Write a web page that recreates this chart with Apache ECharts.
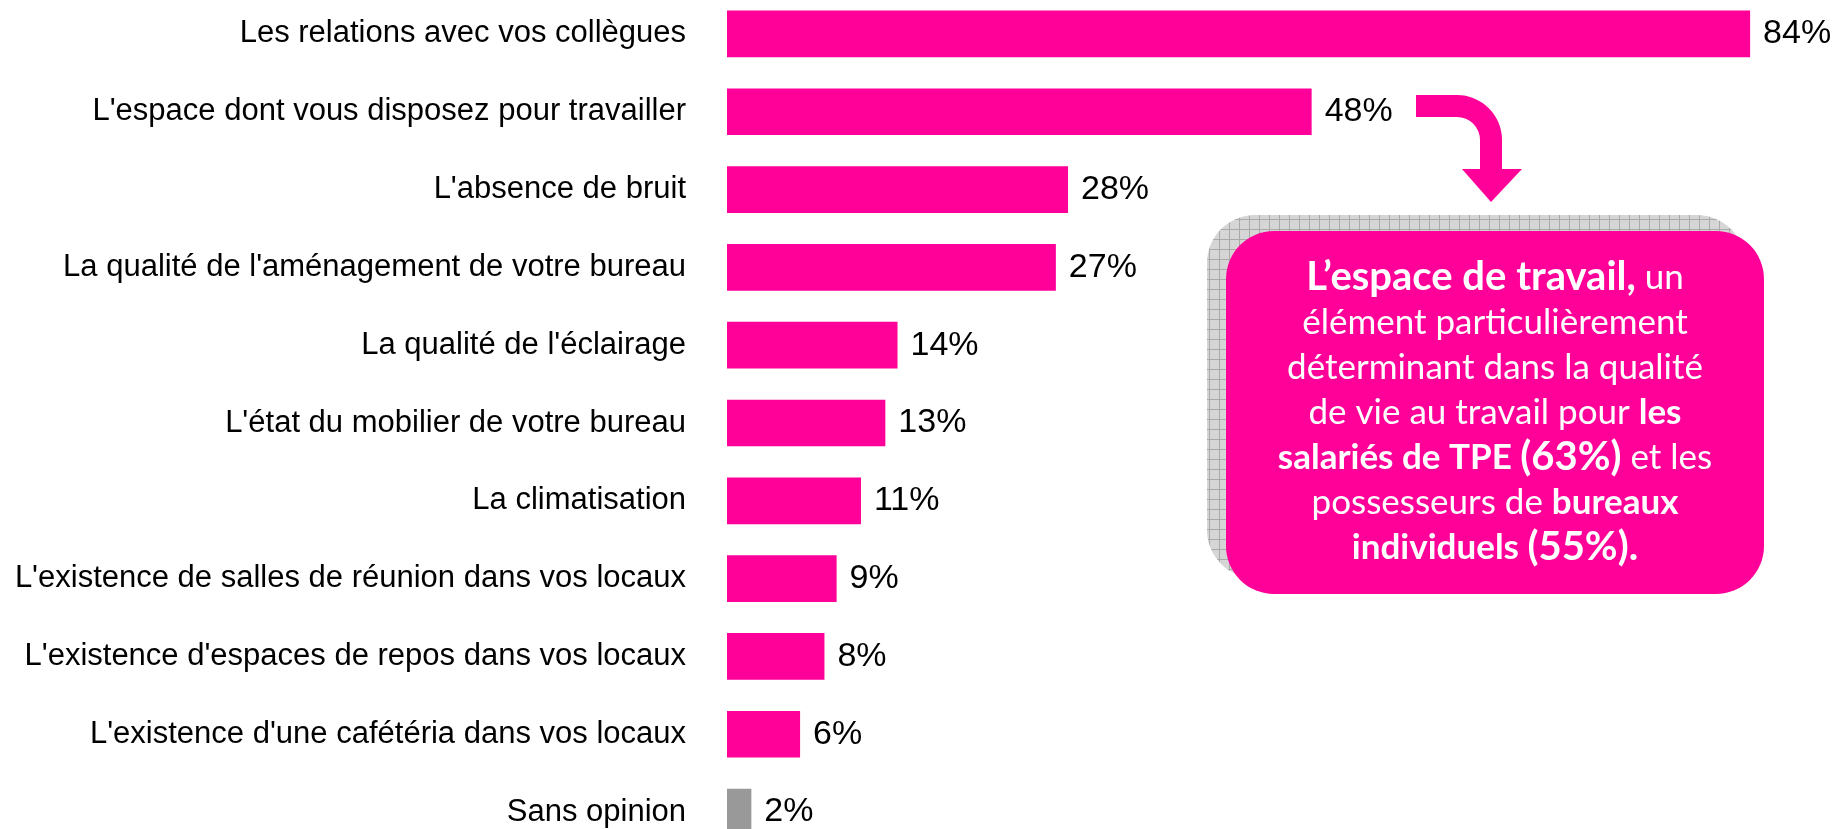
<!DOCTYPE html>
<html>
<head>
<meta charset="utf-8">
<script src="https://cdn.jsdelivr.net/npm/echarts@6/dist/echarts.min.js"></script>
<style>
  html, body { margin: 0; padding: 0; background: #fff; overflow: hidden; }
  #chart { width: 1838px; height: 829px; }
</style>
</head>
<body>
<div id="chart"></div>
<script>
const categories = [
  "Les relations avec vos collègues",
  "L'espace dont vous disposez pour travailler",
  "L'absence de bruit",
  "La qualité de l'aménagement de votre bureau",
  "La qualité de l'éclairage",
  "L'état du mobilier de votre bureau",
  "La climatisation",
  "L'existence de salles de réunion dans vos locaux",
  "L'existence d'espaces de repos dans vos locaux",
  "L'existence d'une cafétéria dans vos locaux",
  "Sans opinion",
];
const values = [84, 48, 28, 27, 14, 13, 11, 9, 8, 6, 2];
const highlightColor = "#ff0099";
const neutralColor = "#999999";

// grid hatch used for the callout's shadow
function makeHatch() {
  const c = document.createElement("canvas");
  c.width = 10;
  c.height = 10;
  const ctx = c.getContext("2d");
  ctx.fillStyle = "#d6d6d6";
  ctx.fillRect(0, 0, 10, 10);
  ctx.fillStyle = "#a9a9a9";
  ctx.fillRect(9, 0, 1, 10);
  ctx.fillRect(0, 9, 10, 1);
  return c;
}

const chart = echarts.init(document.getElementById("chart"));

const boxLeft = 1226, boxTop = 231, boxW = 538, boxH = 363;

chart.setOption({
  animation: false,
  grid: {
    left: 727,
    top: -5,
    width: 1218,
    height: 856,
    containLabel: false,
    outerBoundsMode: "none",
  },
  xAxis: {
    type: "value",
    min: 0,
    max: 100,
    show: false,
  },
  yAxis: {
    type: "category",
    inverse: true,
    data: categories,
    axisLine: { show: false },
    axisTick: { show: false },
    axisLabel: {
      margin: 41,
      color: "#000",
      fontFamily: "Liberation Sans, Arial, sans-serif",
      fontSize: 31,
    },
  },
  series: [
    {
      type: "bar",
      barCategoryGap: "40%",
      data: values.map((v, i) => ({
        value: v,
        itemStyle: { color: i === values.length - 1 ? neutralColor : highlightColor },
      })),
      label: {
        show: true,
        position: "right",
        distance: 13,
        formatter: "{c}%",
        color: "#000",
        fontFamily: "Liberation Sans, Arial, sans-serif",
        fontSize: 34,
      },
    },
  ],
  graphic: [
    {
      type: "rect",
      z: 10,
      shape: { x: boxLeft - 19, y: boxTop - 16, width: boxW, height: boxH, r: 48 },
      style: { fill: { image: makeHatch(), repeat: "repeat" } },
    },
    {
      type: "rect",
      z: 11,
      shape: { x: boxLeft, y: boxTop, width: boxW, height: boxH, r: 48 },
      style: { fill: highlightColor },
    },
    {
      type: "text",
      z: 12,
      x: boxLeft + boxW / 2,
      y: boxTop + boxH / 2,
      style: {
        text:
          "{big|L’espace de travail,}{n| un}\n" +
          "{n|élément particulièrement}\n" +
          "{n|déterminant dans la qualité}\n" +
          "{n|de vie au travail pour }{b|les}\n" +
          "{b|salariés de TPE }{big|(63%)}{n| et les}\n" +
          "{n|possesseurs de }{b|bureaux}\n" +
          "{b|individuels }{big|(55%).}",
        align: "center",
        verticalAlign: "middle",
        fill: "#fff",
        rich: {
          n: { fontFamily: "Lato", fontSize: 35, fill: "#fff", lineHeight: 45 },
          b: { fontFamily: "Lato", fontSize: 35, fontWeight: "bold", fill: "#fff", lineHeight: 45 },
          big: { fontFamily: "Lato", fontSize: 40, fontWeight: "bold", fill: "#fff", lineHeight: 45 },
        },
      },
    },
    // curved arrow from the 48% bar down to the callout
    {
      type: "rect",
      z: 12,
      shape: { x: 1416, y: 95, width: 42, height: 22 },
      style: { fill: highlightColor },
    },
    {
      type: "sector",
      z: 12,
      shape: { cx: 1457, cy: 140, r: 45, r0: 23, startAngle: -Math.PI / 2, endAngle: 0, clockwise: true },
      style: { fill: highlightColor },
    },
    {
      type: "rect",
      z: 12,
      shape: { x: 1480, y: 139, width: 22, height: 31 },
      style: { fill: highlightColor },
    },
    {
      type: "polygon",
      z: 12,
      shape: { points: [[1462, 169], [1522, 169], [1491, 202]] },
      style: { fill: highlightColor },
    },
  ],
});
</script>
</body>
</html>
